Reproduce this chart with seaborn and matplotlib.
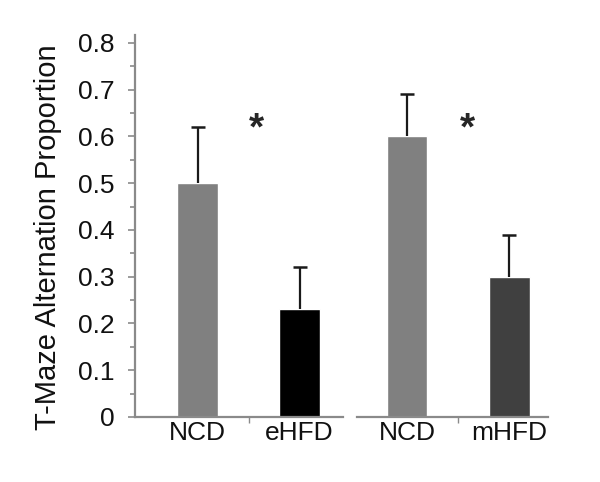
import pandas as pd
import matplotlib
matplotlib.use("Agg")
import matplotlib.pyplot as plt
import seaborn as sns
from matplotlib.ticker import MultipleLocator, FixedLocator

# values
left_groups = ["NCD", "eHFD"]
left_means = [0.50, 0.23]
left_errs = [0.12, 0.09]

right_groups = ["NCD", "mHFD"]
right_means = [0.60, 0.30]
right_errs = [0.09, 0.09]

left_colors = ["#808080", "#000000"]
right_colors = ["#808080", "#404040"]

sns.set_theme(style="white")
plt.rcParams["font.family"] = ["Liberation Sans", "DejaVu Sans"]

fig = plt.figure(figsize=(6.0, 4.82), dpi=100)
ax_l = fig.add_axes([0.225, 0.1349, 0.3467, 0.7925])
ax_r = fig.add_axes([0.595, 0.1349, 0.3183, 0.7925])

spine_col = "#8a8a8a"


def draw_panel(ax, groups, means, errs, colors, xlim):
    df = pd.DataFrame({"group": groups, "value": means})
    sns.barplot(data=df, x="group", y="value", hue="group", palette=colors,
                width=0.40, errorbar=None, legend=False, ax=ax, saturation=1)
    centers = [p.get_x() + p.get_width() / 2 for p in ax.patches]
    _, caps, _ = ax.errorbar(centers, means, yerr=[[0] * len(errs), errs],
                             fmt="none", ecolor="#1a1a1a", elinewidth=1.6,
                             capsize=5, capthick=1.8)
    # only the upper cap is drawn in the original
    caps[0].set_visible(False)
    ax.set_xlim(*xlim)
    ax.set_ylim(0, 0.817)
    ax.set_xlabel("")
    ax.set_ylabel("")
    for s in ["top", "right"]:
        ax.spines[s].set_visible(False)
    ax.spines["bottom"].set_color(spine_col)
    ax.spines["bottom"].set_linewidth(1.6)
    ax.tick_params(axis="x", which="major", length=0, pad=3, labelsize=19,
                   labelcolor="#111111")
    ax.xaxis.set_minor_locator(FixedLocator([0.5]))
    ax.tick_params(axis="x", which="minor", bottom=True, length=4, width=1,
                   color=spine_col, direction="out")


draw_panel(ax_l, left_groups, left_means, left_errs, left_colors, (-0.613, 1.426))
draw_panel(ax_r, right_groups, right_means, right_errs, right_colors, (-0.488, 1.376))

# y axis only on the left panel
ax_l.spines["left"].set_color(spine_col)
ax_l.spines["left"].set_linewidth(1.6)
ax_l.yaxis.set_minor_locator(MultipleLocator(0.05))
ax_l.set_yticks([0, 0.1, 0.2, 0.3, 0.4, 0.5, 0.6, 0.7, 0.8],
                ["0", "0.1", "0.2", "0.3", "0.4", "0.5", "0.6", "0.7", "0.8"])
ax_l.tick_params(axis="y", which="major", left=True, length=5, width=1.2,
                 color=spine_col, pad=10, labelsize=19, labelcolor="#111111")
ax_l.tick_params(axis="y", which="minor", left=True, length=3.5, width=1.2,
                 color=spine_col)
ax_l.set_ylabel("T-Maze Alternation Proportion", fontsize=21, color="#111111",
                va="center")
ax_l.yaxis.set_label_coords(-0.416, 0.47)

ax_r.spines["left"].set_visible(False)
ax_r.set_yticks([])

# significance markers
ax_l.text(0.58, 0.615, "*", fontsize=28, fontweight="bold", ha="center", va="center")
ax_r.text(0.595, 0.615, "*", fontsize=28, fontweight="bold", ha="center", va="center")

fig.savefig("out.png", dpi=100, facecolor="white")
